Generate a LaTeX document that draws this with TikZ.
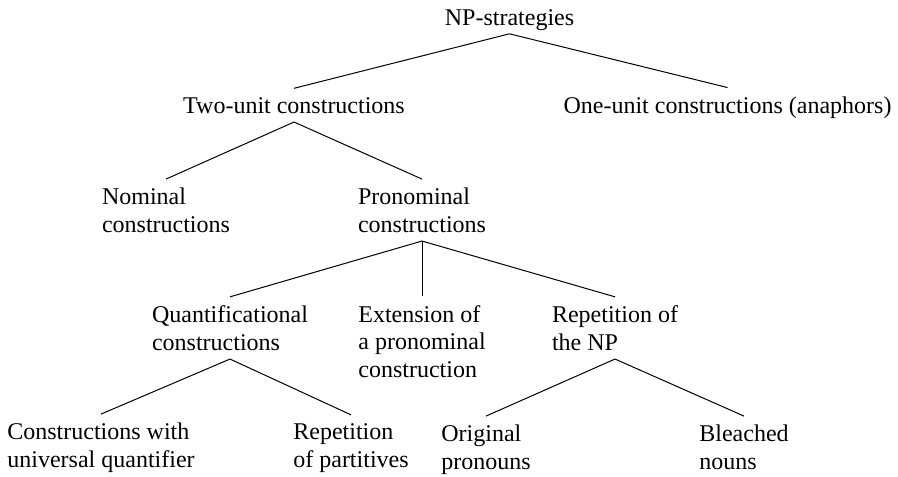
\documentclass[tikz,border=0pt]{standalone}
\usepackage{fontspec}
\setmainfont{Liberation Serif}
\usetikzlibrary{positioning}

\begin{document}
\begin{tikzpicture}
[x=.75pt,y=-.75pt,
lab/.style={inner sep=0pt,outer xsep=0pt,outer ysep=6.6pt,anchor=base,align=left,font=\fontsize{18}{20.6}\selectfont},
branch/.style={line width=.75pt}]
\useasboundingbox (0,0) rectangle (898,476);
%%
% top
%%
\node[lab,text depth=0pt] at (509.5,25) (NPs) {NP-strategies};
\node[lab] at (294,113) (Two) {Two-unit constructions};
\node[lab] at (727.5,113) (One) {One-unit constructions (anaphors)};
\path
(NPs.south) edge[branch] (Two.north)
(NPs.south) edge[branch] (One.north);
%%
% two-unit
%%
\node[lab] at (166,232) (Nom) {Nominal\\constructions};
\node[lab] at (422,232) (Pron) {Pronominal\\constructions};
\path
(Two.south) edge[branch] (Nom.north)
(Two.south) edge[branch] (Pron.north);
%%
% pronominal
%%
\node[lab] at (230,350) (Quant) {Quantificational\\constructions};
\node[lab] at (422,377) (Ext) {Extension of\\a pronominal\\construction};
\node[lab] at (615,350) (Rep) {Repetition of\\the NP};
\path
(Pron.south) edge[branch] (Quant.north)
(Pron.south) edge[branch] (Ext.north)
(Pron.south) edge[branch] (Rep.north);
%%
% leaves
%%
\node[lab] at (101,467) (Univ) {Constructions with\\universal quantifier};
\node[lab] at (351,467) (Part) {Repetition\\of partitives};
\node[lab] at (486,469) (Orig) {Original\\pronouns};
\node[lab] at (744,469) (Bleach) {Bleached\\nouns};
\path
(Quant.south) edge[branch] (Univ.north)
(Quant.south) edge[branch] (Part.north)
(Rep.south) edge[branch] (Orig.north)
(Rep.south) edge[branch] (Bleach.north);
\end{tikzpicture}
\end{document}
